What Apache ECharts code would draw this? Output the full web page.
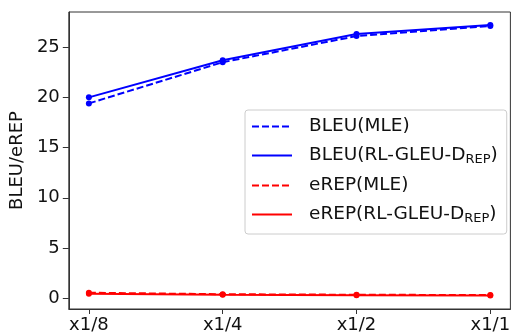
<!DOCTYPE html>
<html>
<head>
<meta charset="utf-8">
<script src="https://cdn.jsdelivr.net/npm/echarts@6/dist/echarts.min.js"></script>
<style>
  html, body { margin: 0; padding: 0; background: #fff; }
  #chart { width: 513px; height: 335px; }
</style>
</head>
<body>
<div id="chart"></div>
<script>
const categories = ['x1/8', 'x1/4', 'x1/2', 'x1/1']
const bleuMle = [19.4, 23.5, 26.1, 27.1]
const bleuRl = [20.0, 23.7, 26.3, 27.2]
const erepMle = [0.55, 0.4, 0.35, 0.32]
const erepRl = [0.45, 0.35, 0.3, 0.28]
const yTicks = [0, 5, 10, 15, 20, 25]

const font = 'DejaVu Sans'
const toPts = vals => vals.map((v, i) => [i, v])

const chart = echarts.init(document.getElementById('chart'))

function lineSeries(name, values, color, dashed) {
  return {
    name: name,
    type: 'line',
    data: toPts(values),
    symbol: 'circle',
    symbolSize: 6,
    showSymbol: true,
    itemStyle: { color: color },
    lineStyle: { color: color, width: 2, type: dashed ? [7, 3] : 'solid' },
    emphasis: { disabled: true },
    z: dashed ? 2 : 3
  }
}

chart.setOption({
  animation: false,
  grid: {
    left: 66, right: -2, top: 12, bottom: 26,
    show: true, borderColor: '#333', borderWidth: 1
  },
  xAxis: {
    type: 'value',
    min: -0.15,
    max: 3.15,
    splitLine: { show: false },
    axisLine: { onZero: false, lineStyle: { color: '#333', width: 1 } },
    axisTick: { show: true, length: 5, customValues: [0, 1, 2, 3], lineStyle: { color: '#333' } },
    axisLabel: {
      customValues: [0, 1, 2, 3],
      formatter: v => categories[Math.round(v)],
      color: '#111', fontFamily: font, fontSize: 18, margin: 7
    }
  },
  yAxis: {
    type: 'value',
    min: -1.07,
    max: 28.5,
    name: 'BLEU/eREP',
    nameLocation: 'middle',
    nameGap: 42,
    nameTextStyle: { color: '#111', fontFamily: font, fontSize: 18 },
    splitLine: { show: false },
    axisLine: { show: true, onZero: false, lineStyle: { color: '#333', width: 1 } },
    axisTick: { show: true, length: 6, customValues: yTicks, lineStyle: { color: '#333' } },
    axisLabel: {
      customValues: yTicks,
      color: '#111', fontFamily: font, fontSize: 18, margin: 9
    }
  },
  legend: {
    orient: 'vertical',
    left: 245,
    top: 110,
    padding: [7, 9, 9, 6],
    backgroundColor: '#fff',
    borderColor: '#ccc',
    borderWidth: 1,
    borderRadius: 3,
    itemWidth: 40,
    itemHeight: 14,
    itemGap: 10,
    itemStyle: { opacity: 0 },
    textStyle: {
      color: '#111', fontFamily: font, fontSize: 18.5, padding: [0, 0, 0, 12],
      rich: {
        sub: { fontFamily: font, fontSize: 13, padding: [8, 0, 0, 0], color: '#111' }
      }
    },
    formatter: name => name.replace('-DREP)', '-D{sub|REP})')
  },
  series: [
    lineSeries('BLEU(MLE)', bleuMle, '#0000ff', true),
    lineSeries('BLEU(RL-GLEU-DREP)', bleuRl, '#0000ff', false),
    lineSeries('eREP(MLE)', erepMle, '#ff0000', true),
    lineSeries('eREP(RL-GLEU-DREP)', erepRl, '#ff0000', false)
  ]
})
</script>
</body>
</html>
